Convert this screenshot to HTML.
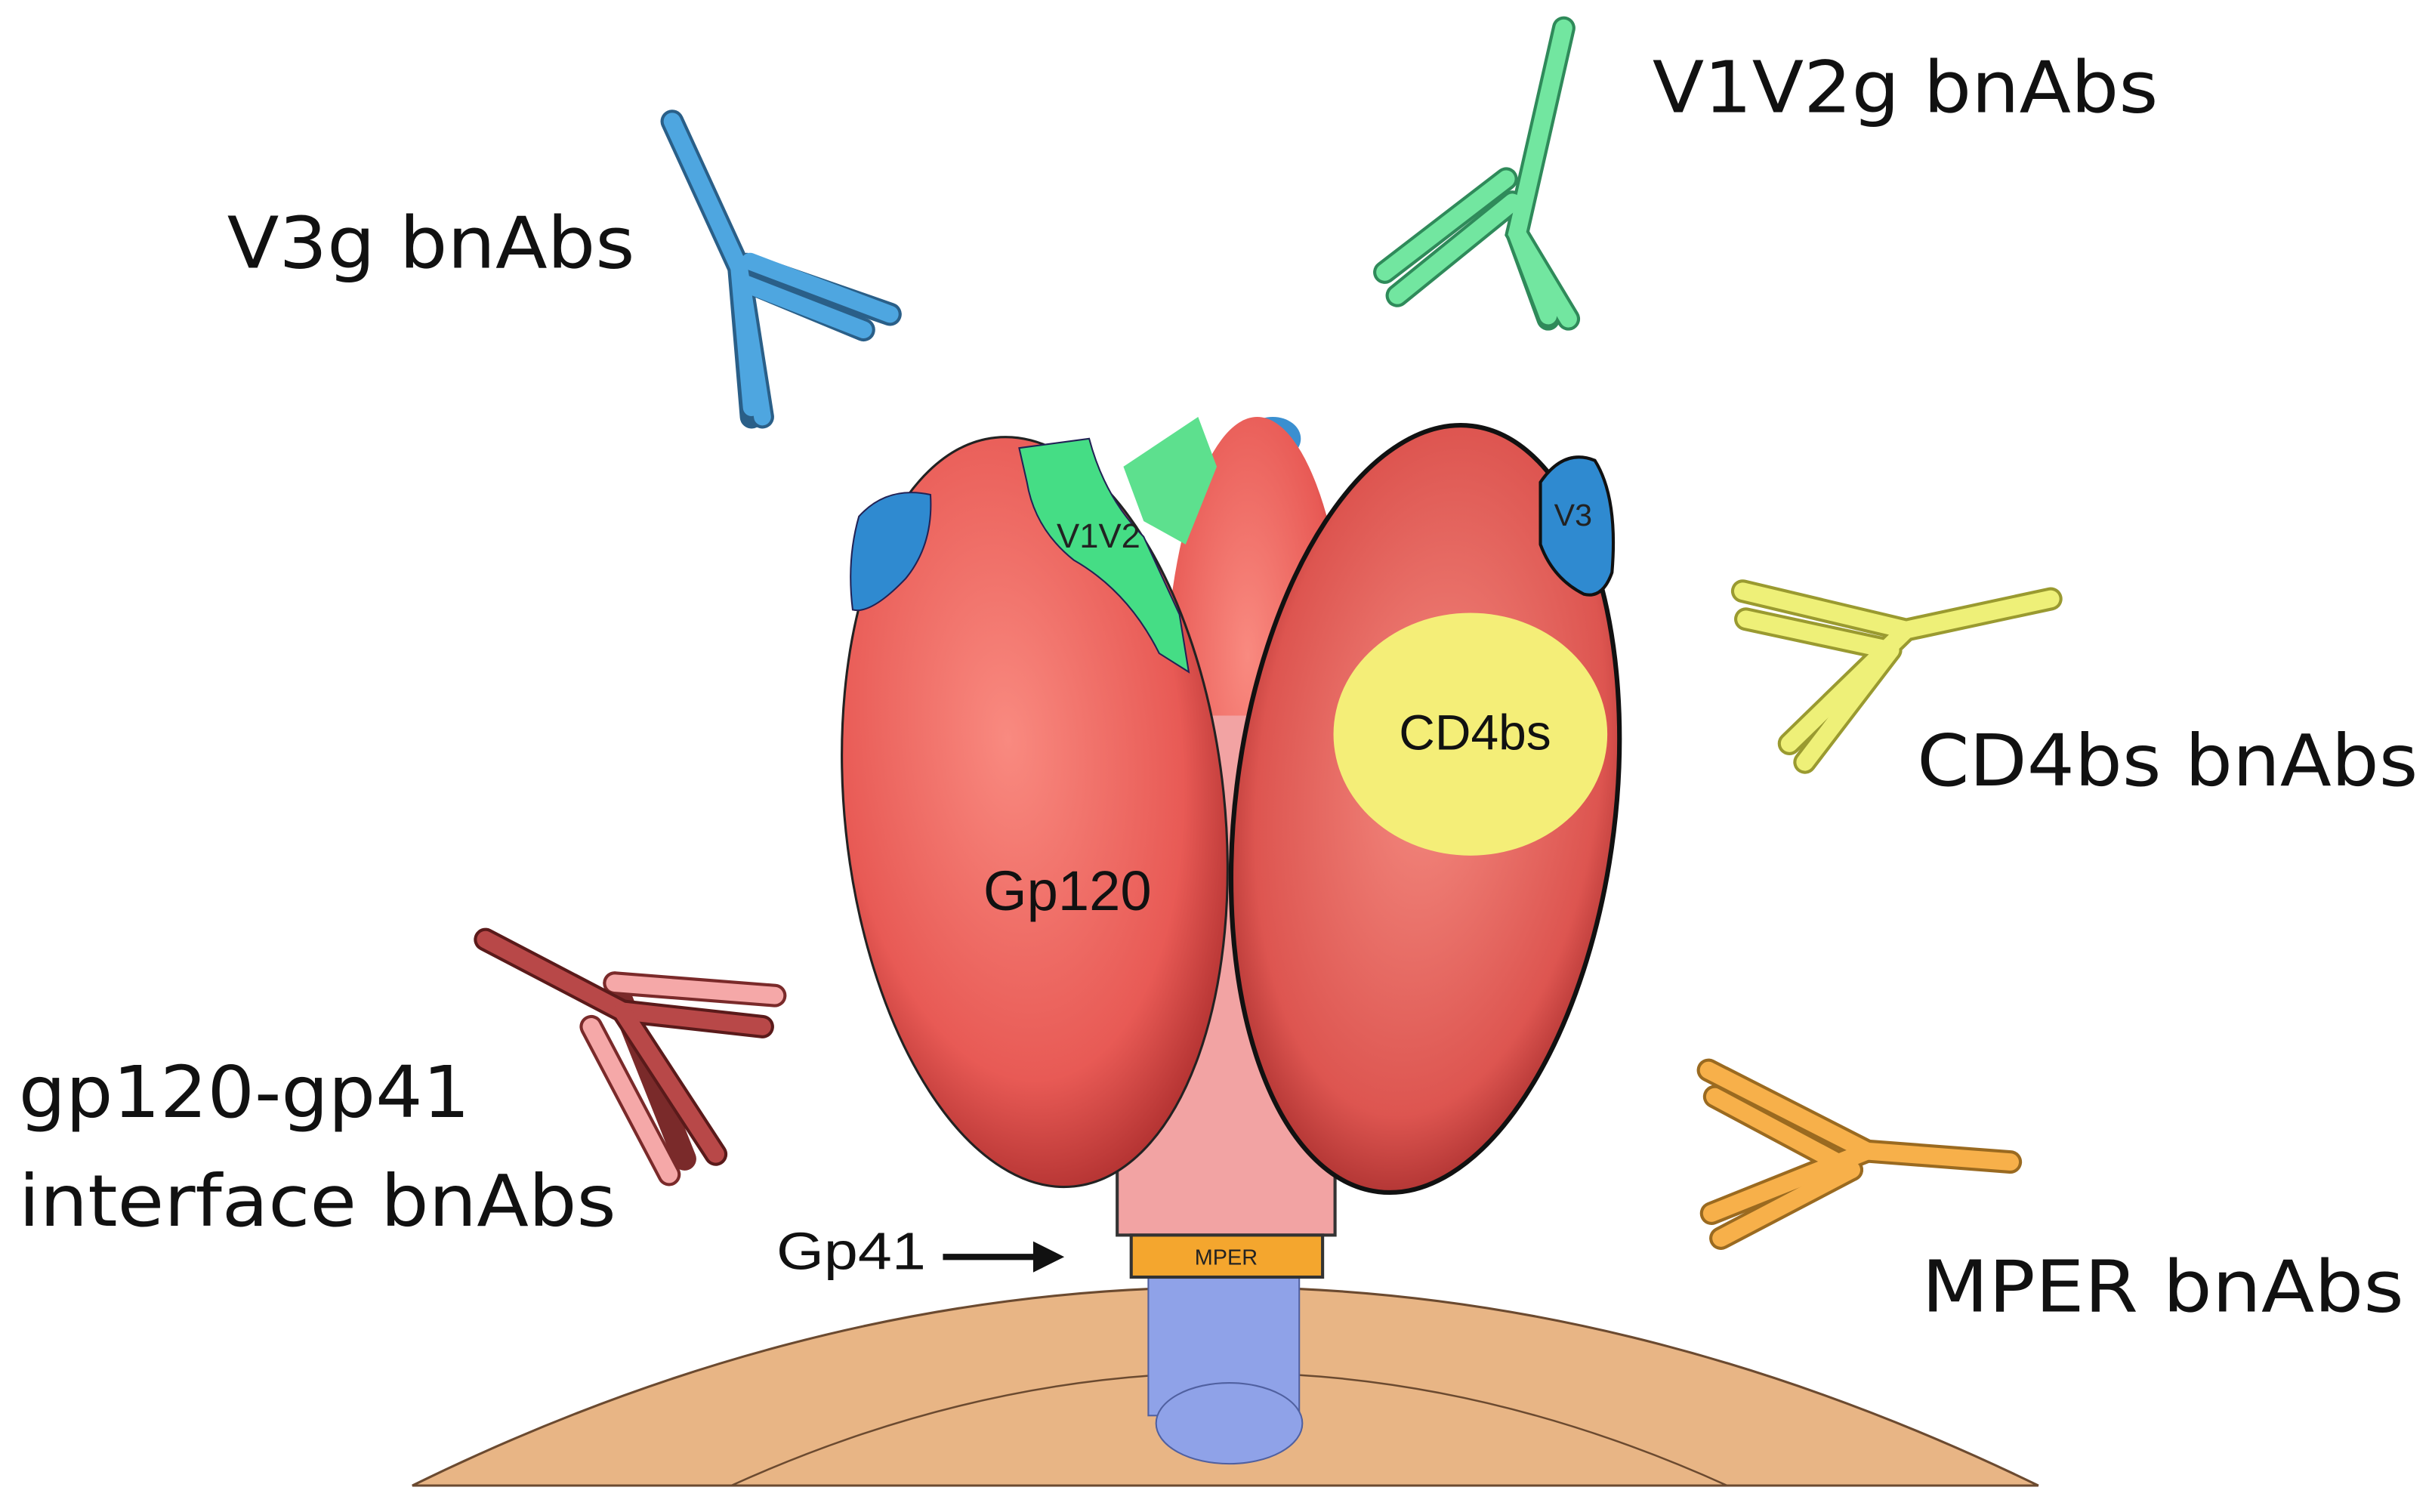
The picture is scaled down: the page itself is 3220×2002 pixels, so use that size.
<!DOCTYPE html>
<html><head><meta charset="utf-8"><style>
html,body{margin:0;padding:0;background:#fff;width:3220px;height:2002px;overflow:hidden}
svg{display:block}
text{font-family:"Liberation Sans",sans-serif}
.lbl{font-family:"DejaVu Sans Condensed","Liberation Sans Narrow","Liberation Sans",sans-serif;font-size:46px;fill:#111}
</style></head><body>
<svg width="3220" height="2002" viewBox="0 0 1563 972" preserveAspectRatio="none" xmlns="http://www.w3.org/2000/svg">
<defs>
<radialGradient id="rg" cx="0.45" cy="0.4" r="0.65"><stop offset="0" stop-color="#f98a80"/><stop offset="0.7" stop-color="#e85a55"/><stop offset="1" stop-color="#a82a2a"/></radialGradient>
<radialGradient id="rg2" cx="0.5" cy="0.45" r="0.6"><stop offset="0" stop-color="#f48a80"/><stop offset="0.75" stop-color="#dd5550"/><stop offset="1" stop-color="#a02828"/></radialGradient>
</defs>
<!-- membrane -->
<path d="M265,955 Q785,700 1310,955 Z" fill="#e8b585" stroke="#6b4a30" stroke-width="1.5"/>
<path d="M470,955 Q790,810 1110,955" fill="none" stroke="#6b4a30" stroke-width="1.2"/>
<rect x="738" y="818" width="97" height="92" fill="#8fa2e8" stroke="#5060a0" stroke-width="1"/>
<ellipse cx="790" cy="915" rx="47" ry="26" fill="#8fa2e8" stroke="#5060a0" stroke-width="1"/>
<!-- gp41 -->
<rect x="718" y="600" width="140" height="194" fill="#f2a3a3" stroke="#333" stroke-width="2"/>
<rect x="727" y="794" width="123" height="27" fill="#f4a62e" stroke="#333" stroke-width="2"/>
<text x="788" y="813" font-size="14" text-anchor="middle" fill="#222">MPER</text>
<!-- back -->
<ellipse cx="818" cy="282" rx="18" ry="14" fill="#3a8fd0"/>
<ellipse cx="808" cy="460" rx="60" ry="192" fill="url(#rg)"/>
<path d="M765,460 L850,460 L840,700 L770,700 Z" fill="#f2a3a3"/>
<path d="M722,300 L770,268 L782,300 L762,350 L735,335 Z" fill="#5de08e"/>
<path d="M868,325 L912,278 L930,282 L900,322 Z" fill="#5de08e"/>
<!-- left gp120 -->
<ellipse cx="665" cy="522" rx="122" ry="242" transform="rotate(-6 665 522)" fill="url(#rg)" stroke="#222" stroke-width="1.5"/>
<path d="M552,332 Q570,312 598,318 Q600,350 582,372 Q560,395 548,392 Q544,360 552,332 Z" fill="#2f8ad0" stroke="#225" stroke-width="1"/>
<path d="M655,288 L700,282 Q710,320 735,345 L758,395 L764,432 L745,420 Q725,380 690,360 Q665,340 660,310 Z" fill="#45dd85" stroke="#225" stroke-width="1"/>
<text x="706" y="352" font-size="22" text-anchor="middle" fill="#222">V1V2</text>
<text x="686" y="585" font-size="36" text-anchor="middle" fill="#111">Gp120</text>
<!-- right gp120 -->
<ellipse cx="916" cy="520" rx="122" ry="248" transform="rotate(7 916 520)" fill="url(#rg2)" stroke="#111" stroke-width="3"/>
<ellipse cx="945" cy="472" rx="88" ry="78" fill="#f4ee78"/>
<text x="948" y="482" font-size="32" text-anchor="middle" fill="#111">CD4bs</text>
<path d="M990,310 Q1005,288 1025,296 Q1040,320 1036,368 Q1030,385 1018,382 Q998,372 990,350 Z" fill="#2f8ad0" stroke="#111" stroke-width="2"/>
<text x="1011" y="338" font-size="20" text-anchor="middle" fill="#222">V3</text>
<!-- antibodies -->
<g stroke-linecap="round" fill="none">
 <g stroke="#2a5f88" stroke-width="15"><path d="M432,78 L475,172 L490,268"/><path d="M475,172 L483,268"/><path d="M480,170 L572,202"/><path d="M478,180 L555,212"/></g>
 <g stroke="#4ea6e0" stroke-width="11"><path d="M432,78 L475,172 L490,268"/><path d="M475,172 L483,262"/><path d="M482,168 L572,202"/><path d="M478,182 L555,212"/></g>
 <g stroke="#2f8a5a" stroke-width="15"><path d="M1005,18 L975,150 L1008,205"/><path d="M975,150 L995,205"/><path d="M968,115 L890,175"/><path d="M972,130 L898,190"/></g>
 <g stroke="#72e6a0" stroke-width="11"><path d="M1005,18 L975,150 L1008,205"/><path d="M975,150 L995,203"/><path d="M968,115 L890,175"/><path d="M972,130 L898,190"/></g>
 <g stroke="#9a9a30" stroke-width="15"><path d="M1318,385 L1225,405"/><path d="M1225,405 L1120,380"/><path d="M1215,418 L1122,398"/><path d="M1225,405 L1150,478"/><path d="M1215,418 L1160,490"/></g>
 <g stroke="#eef078" stroke-width="11"><path d="M1318,385 L1225,405"/><path d="M1225,405 L1120,380"/><path d="M1215,418 L1122,398"/><path d="M1225,405 L1150,478"/><path d="M1215,418 L1160,490"/></g>
 <g stroke="#9a6a20" stroke-width="15"><path d="M1292,747 L1200,740"/><path d="M1200,740 L1098,688"/><path d="M1190,752 L1102,705"/><path d="M1200,740 L1100,780"/><path d="M1190,752 L1106,796"/></g>
 <g stroke="#f7b04a" stroke-width="11"><path d="M1292,747 L1200,740"/><path d="M1200,740 L1098,688"/><path d="M1190,752 L1102,705"/><path d="M1200,740 L1100,780"/><path d="M1190,752 L1106,796"/></g>
 <g stroke="#7a2a2a" stroke-width="15"><path d="M498,640 L395,632"/><path d="M395,632 L440,745"/><path d="M380,660 L430,755"/></g>
 <g stroke="#f5a8a8" stroke-width="11"><path d="M498,640 L395,632"/><path d="M380,660 L430,755"/></g>
 <g stroke="#5a1a1a" stroke-width="15"><path d="M312,604 L400,650 L490,660"/><path d="M400,650 L460,742"/></g>
 <g stroke="#b84848" stroke-width="11"><path d="M312,604 L400,650 L490,660"/><path d="M400,650 L460,742"/></g>
</g>
<!-- labels -->
<text class="lbl" x="146" y="172" textLength="262" lengthAdjust="spacingAndGlyphs">V3g bnAbs</text>
<text class="lbl" x="1062" y="72" textLength="325" lengthAdjust="spacingAndGlyphs">V1V2g bnAbs</text>
<text class="lbl" x="1232" y="505" textLength="322" lengthAdjust="spacingAndGlyphs">CD4bs bnAbs</text>
<text class="lbl" x="12" y="718" textLength="290" lengthAdjust="spacingAndGlyphs">gp120-gp41</text>
<text class="lbl" x="12" y="788" textLength="384" lengthAdjust="spacingAndGlyphs">interface bnAbs</text>
<text class="lbl" x="1235" y="843" textLength="310" lengthAdjust="spacingAndGlyphs">MPER bnAbs</text>
<text x="499" y="816" font-size="34" fill="#111" textLength="96" lengthAdjust="spacingAndGlyphs">Gp41</text>
<path d="M606,808 L668,808" stroke="#111" stroke-width="4"/>
<path d="M684,808 L664,798 L664,818 Z" fill="#111"/>
</svg>
</body></html>
